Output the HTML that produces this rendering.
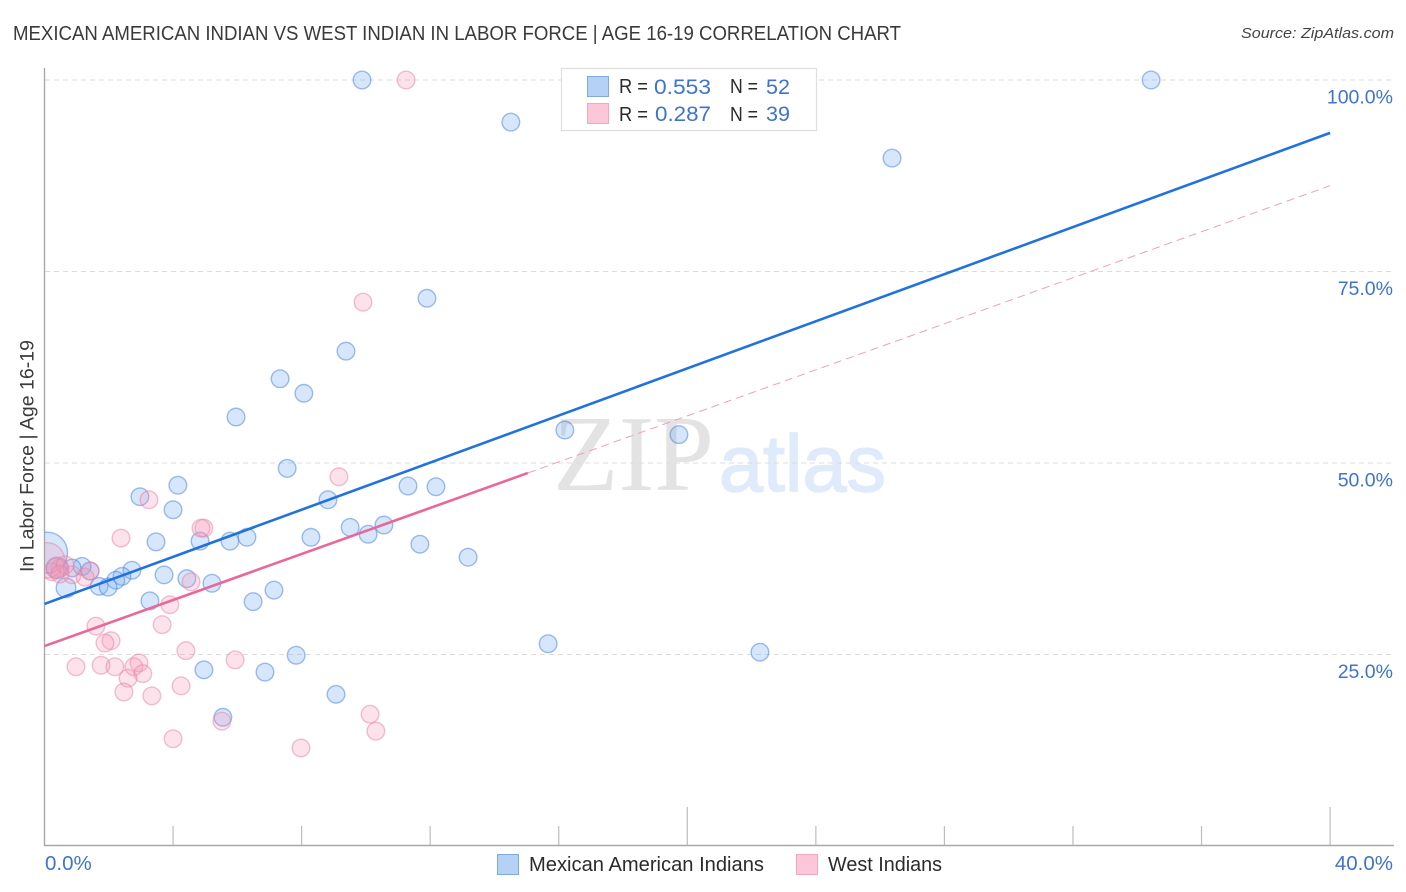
<!DOCTYPE html>
<html lang="en">
<head>
<meta charset="utf-8">
<title>Mexican American Indian vs West Indian In Labor Force | Age 16-19 Correlation Chart</title>
<style>
html,body{margin:0;padding:0;background:#fff;}
svg{display:block;font-family:"Liberation Sans",sans-serif;}
</style>
</head>
<body>
<svg id="chart" xmlns="http://www.w3.org/2000/svg" width="1406" height="892" viewBox="0 0 1406 892">
  <defs><clipPath id="plot-clip"><rect x="45" y="60" width="1349" height="786"/></clipPath></defs>
  <text x="13" y="40" font-size="20" fill="#3a3a3a" textLength="888" lengthAdjust="spacingAndGlyphs">MEXICAN AMERICAN INDIAN VS WEST INDIAN IN LABOR FORCE | AGE 16-19 CORRELATION CHART</text>
  <text x="1241" y="38" font-size="15" font-style="italic" fill="#444" textLength="153" lengthAdjust="spacingAndGlyphs">Source: ZipAtlas.com</text>

  <g>
    <text x="553" y="490" font-size="108" fill="#e3e3e3" font-family="'Liberation Serif',serif" textLength="161" lengthAdjust="spacingAndGlyphs">ZIP</text>
    <text x="719" y="491" font-size="80" fill="#dfeafa" stroke="#dfeafa" stroke-width="1.5" textLength="167" lengthAdjust="spacingAndGlyphs">atlas</text>
  </g>

  <g id="grid"></g>
  <g id="axes"></g>
  <g id="points" clip-path="url(#plot-clip)"></g>
  <g id="trends"></g>
  <g id="ticklabels"></g>

  <text transform="translate(33.5,572) rotate(-90)" x="0" y="0" font-size="19" fill="#3a3a3a" textLength="232" lengthAdjust="spacingAndGlyphs">In Labor Force | Age 16-19</text>

  <g>
    <rect x="561.5" y="68.5" width="255" height="62" fill="#fff" stroke="#dedede" stroke-width="1.2"/>
    <rect x="587.5" y="76.5" width="21" height="20" fill="#b5d2f6" stroke="#80aadd"/>
    <text x="619" y="93" font-size="20" fill="#2b2b2b" textLength="29" lengthAdjust="spacingAndGlyphs">R =</text>
    <text x="654" y="94" font-size="21" fill="#3f73d0" textLength="57" lengthAdjust="spacingAndGlyphs">0.553</text>
    <text x="730" y="93" font-size="20" fill="#2b2b2b" textLength="28" lengthAdjust="spacingAndGlyphs">N =</text>
    <text x="766" y="94" font-size="21" fill="#3f73d0" textLength="24" lengthAdjust="spacingAndGlyphs">52</text>
    <rect x="587.5" y="103.5" width="21" height="20" fill="#fcc7d8" stroke="#f2a6bf"/>
    <text x="619" y="121" font-size="20" fill="#2b2b2b" textLength="29" lengthAdjust="spacingAndGlyphs">R =</text>
    <text x="655" y="121" font-size="21" fill="#3f73d0" textLength="56" lengthAdjust="spacingAndGlyphs">0.287</text>
    <text x="730" y="121" font-size="20" fill="#2b2b2b" textLength="28" lengthAdjust="spacingAndGlyphs">N =</text>
    <text x="766" y="121" font-size="21" fill="#3f73d0" textLength="24" lengthAdjust="spacingAndGlyphs">39</text>
  </g>

  <g>
    <g>
      <rect x="497.5" y="854.5" width="21" height="20" fill="#b5d2f6" stroke="#80aadd"/>
      <text x="529" y="871" font-size="20" fill="#2b2b2b" textLength="235" lengthAdjust="spacingAndGlyphs">Mexican American Indians</text>
    </g>
    <g>
      <rect x="796.5" y="854.5" width="21" height="20" fill="#fcc7d8" stroke="#f2a6bf"/>
      <text x="828" y="871" font-size="20" fill="#2b2b2b" textLength="114" lengthAdjust="spacingAndGlyphs">West Indians</text>
    </g>
  </g>
</svg>
<script>
const blueX = [9.88,34.43,14.51,26.37,11.90,9.38,7.33,8.07,5.96,16.19,19.74,7.55,2.97,4.15,8.82,11.31,12.18,4.00,9.51,10.07,10.56,3.47,4.84,5.77,6.30,8.29,11.68,13.18,2.72,3.72,4.43,5.21,3.28,7.14,6.49,2.41,2.22,1.70,1.98,1.42,1.17,0.86,0.67,0.39,0.08,15.67,22.26,7.83,4.96,6.86,9.07,5.55];
const blueY = [100,100,94.5,89.8,71.5,64.6,61.0,59.1,56.0,54.3,53.7,49.3,45.6,47.1,45.2,47.0,46.9,43.9,41.6,40.7,41.9,39.7,39.8,39.8,40.3,40.3,39.4,37.7,36.0,35.4,34.9,34.3,32.0,33.4,31.9,35.2,34.7,33.9,33.8,35.9,36.5,36.3,33.7,36.3,38.3,26.4,25.3,24.9,23.0,22.7,19.8,16.8];
const blueWeight = [1,1,1,1,1,1,1,1,1,1,1,1,1,1,1,1,1,1,1,1,1,1,1,1,1,1,1,1,1,1,1,1,1,1,1,1,1,1,1,1,1,1,1.25,1.5,5.4,1,1,1,1,1,1,1];
const pinkX = [11.25,9.91,9.16,3.25,2.38,4.96,4.87,1.42,1.26,0.86,0.48,0.23,0.08,4.56,3.90,1.60,3.66,2.07,1.88,4.40,5.93,0.98,1.76,2.19,2.94,2.78,3.06,2.60,2.47,3.34,4.25,10.13,10.31,5.52,4.00,7.98,0.36,0.64,0.48];
const pinkY = [100,71.0,48.2,45.2,40.2,41.5,41.5,35.9,35.1,35.4,36.3,35.8,37.3,34.5,31.5,28.7,28.9,26.8,26.5,25.5,24.3,23.4,23.6,23.4,23.9,23.4,22.5,21.9,20.1,19.6,20.9,17.2,15.0,16.3,14.0,12.8,36.3,36.7,35.5];
const pinkWeight = [1,1,1,1,1,1,1,1,1,1,1,1,4,1,1,1,1,1,1,1,1,1,1,1,1,1,1,1,1,1,1,1,1,1,1,1,1.2,1,1];
const blueTrendX = [0,40];
const blueTrendY = [31.6,93.1];
const pinkSolidX = [0,15.04];
const pinkSolidY = [26.1,48.7];
const pinkDashX = [15.04,40];
const pinkDashY = [48.7,86.2];
const yTickValues = [100,75,50,25];
const yTickLabels = ["100.0%","75.0%","50.0%","25.0%"];
const xTickValues = [4,8,12,16,20,24,28,32,36,40];
const xMajorTicks = [20,40];
const xEndValues = [0,40];
const xEndLabels = ["0.0%","40.0%"];

const NS = 'http://www.w3.org/2000/svg';
const xScale = v => 44.5 + v * 32.14;
const yScale = v => 846 - v * 7.66;

function make(parent, tag, attrs, text) {
  const el = document.createElementNS(NS, tag);
  for (const k in attrs) el.setAttribute(k, attrs[k]);
  if (text !== undefined) el.textContent = text;
  document.getElementById(parent).appendChild(el);
  return el;
}

yTickValues.forEach((v, i) => {
  const line = make('grid', 'line', {x1: 45, x2: 1394, y1: yScale(v), y2: yScale(v), stroke: '#dcdcdc', 'stroke-width': 1, 'stroke-dasharray': '5 4'});
  
  
  const label = make('ticklabels', 'text', {x: 1393, y: yScale(v) + 23.5, 'font-size': 19.5, fill: '#3f73d0', 'text-anchor': 'end'}, yTickLabels[i]);
  
  
});

const yAxis = make('axes', 'line', {x1: 44.5, x2: 44.5, y1: 68, y2: 846, stroke: '#a8a8a8', 'stroke-width': 1.4});


const xAxis = make('axes', 'line', {x1: 44, x2: 1394, y1: 845.5, y2: 845.5, stroke: '#a8a8a8', 'stroke-width': 1.4});



xTickValues.forEach(v => {
  const top = xMajorTicks.includes(v) ? 807 : 826;
  const tick = make('axes', 'line', {x1: xScale(v), x2: xScale(v), y1: top, y2: 845, stroke: '#bdbdbd', 'stroke-width': 1.2});
  
  
});

xEndValues.forEach((v, i) => {
  const label = make('ticklabels', 'text', {x: v === 0 ? xScale(v) + 0.5 : 1393, y: 870, 'font-size': 20.5, fill: '#3f73d0', 'text-anchor': v === 0 ? 'start' : 'end'}, xEndLabels[i]);
  
  
});

blueX.forEach((v, i) => {
  const dot = make('points', 'circle', {cx: xScale(v), cy: yScale(blueY[i]), r: 8.8 * Math.sqrt(blueWeight[i]), fill: 'rgba(120,175,245,0.30)', stroke: 'rgba(70,125,215,0.5)', 'stroke-width': 1.4});
  
  
});
pinkX.forEach((v, i) => {
  const dot = make('points', 'circle', {cx: xScale(v), cy: yScale(pinkY[i]), r: 8.8 * Math.sqrt(pinkWeight[i]), fill: 'rgba(245,150,180,0.27)', stroke: 'rgba(232,130,165,0.5)', 'stroke-width': 1.4});
  
  
});

const blueTrend = make('trends', 'line', {x1: xScale(blueTrendX[0]), y1: yScale(blueTrendY[0]), x2: xScale(blueTrendX[1]), y2: yScale(blueTrendY[1]), stroke: '#2272dc', 'stroke-width': 2.6});


const pinkSolid = make('trends', 'line', {x1: xScale(pinkSolidX[0]), y1: yScale(pinkSolidY[0]), x2: xScale(pinkSolidX[1]), y2: yScale(pinkSolidY[1]), stroke: '#e9689a', 'stroke-width': 2.6});


const pinkDash = make('trends', 'line', {x1: xScale(pinkDashX[0]), y1: yScale(pinkDashY[0]), x2: xScale(pinkDashX[1]), y2: yScale(pinkDashY[1]), stroke: '#eda0bb', 'stroke-width': 1, 'stroke-dasharray': '8 5'});


</script>
</body>
</html>
